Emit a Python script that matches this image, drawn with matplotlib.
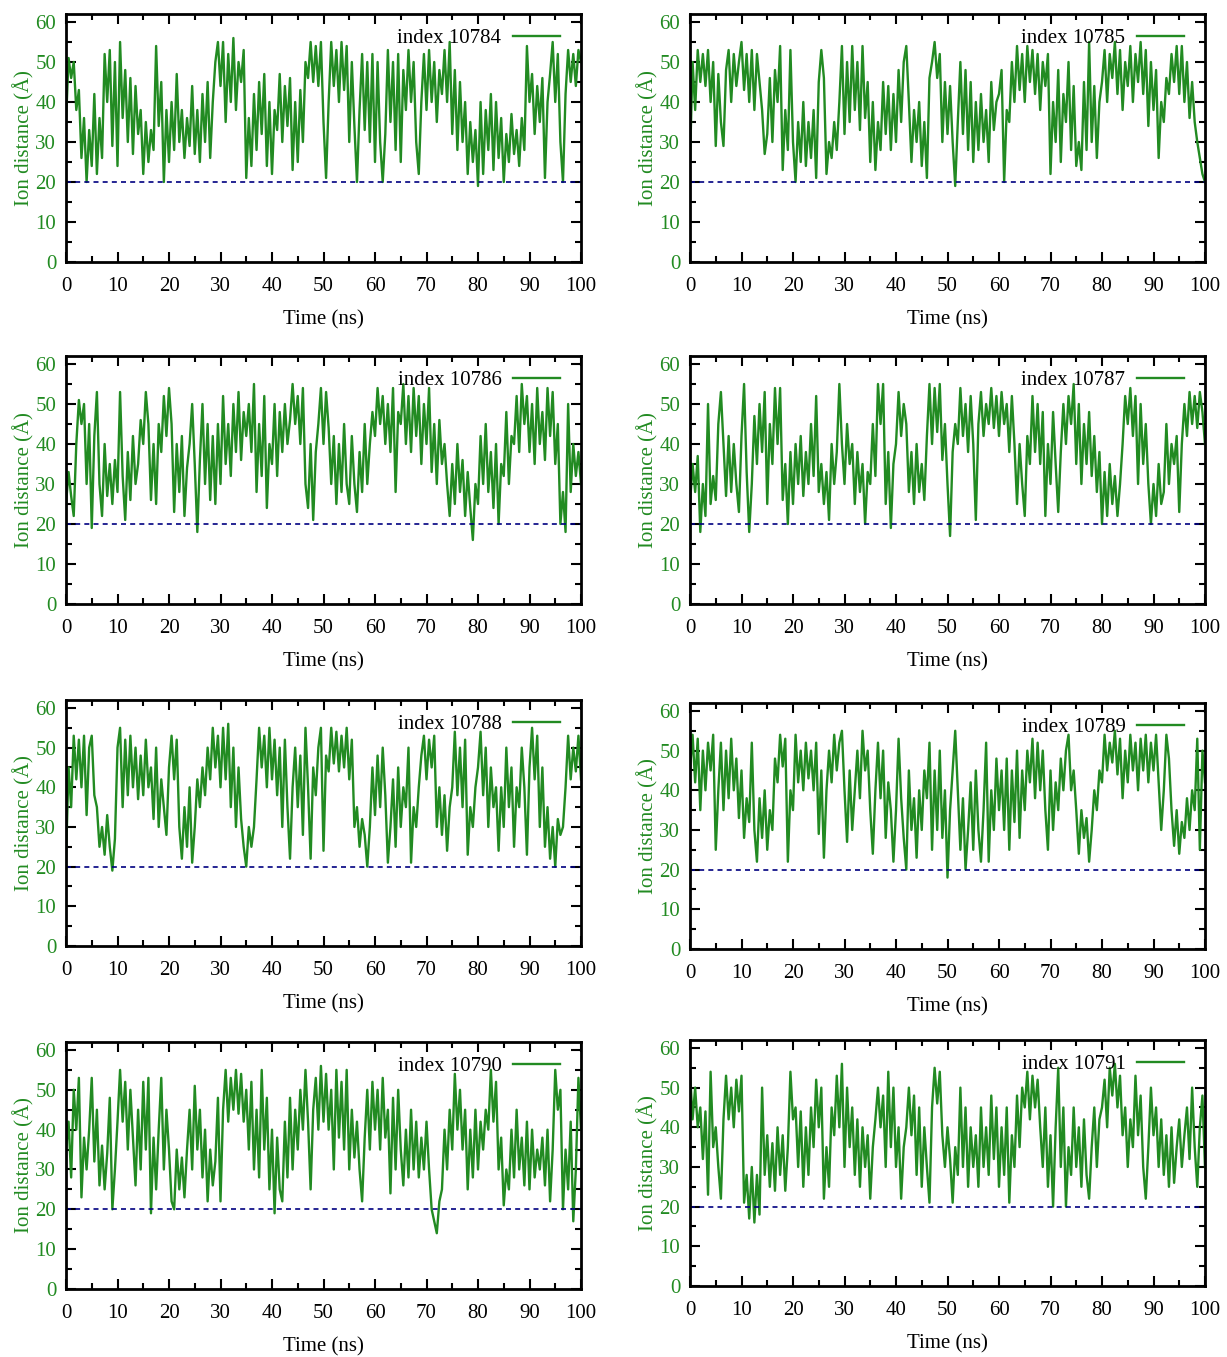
import numpy as np
import matplotlib
matplotlib.use("Agg")
import matplotlib.pyplot as plt
from matplotlib.ticker import MultipleLocator

plt.rcParams['font.family'] = ['Liberation Serif', 'DejaVu Serif']

# time axis: one reading every 0.5 ns, 0..100 ns
time_ns = np.linspace(0, 100, 201)
threshold = 20

ion_labels = ["index 10784", "index 10785", "index 10786", "index 10787",
              "index 10788", "index 10789", "index 10790", "index 10791"]

# distances (Å), 20 values per 10 ns row
d10784 = [35, 51, 46, 50, 38, 43, 26, 36, 20, 33, 24, 42, 22, 36, 26, 52, 40, 53, 29, 50,
          24, 55, 36, 48, 30, 46, 27, 44, 32, 38, 22, 35, 25, 33, 28, 54, 34, 45, 20, 38,
          25, 40, 28, 47, 30, 38, 26, 36, 29, 44, 27, 38, 25, 42, 30, 45, 26, 40, 50, 55,
          44, 55, 35, 52, 40, 56, 38, 50, 45, 53, 21, 36, 24, 42, 28, 45, 32, 47, 24, 40,
          22, 38, 33, 47, 30, 44, 34, 46, 23, 40, 25, 43, 30, 50, 46, 55, 45, 54, 44, 55,
          35, 21, 40, 55, 44, 53, 40, 55, 43, 54, 30, 50, 34, 20, 38, 52, 33, 50, 30, 52,
          25, 50, 30, 20, 32, 53, 35, 50, 28, 52, 25, 48, 38, 53, 40, 50, 30, 22, 40, 52,
          38, 53, 40, 50, 35, 48, 42, 53, 40, 55, 32, 48, 28, 45, 30, 40, 22, 35, 25, 33,
          19, 40, 22, 38, 28, 42, 23, 40, 26, 36, 20, 32, 25, 37, 27, 33, 24, 36, 28, 54,
          40, 47, 32, 44, 35, 46, 21, 40, 47, 55, 40, 52, 30, 20, 42, 53, 45, 52, 44, 53,
          50]
d10785 = [25, 50, 38, 53, 45, 52, 44, 53, 40, 50, 29, 47, 35, 29, 48, 53, 40, 52, 44, 50,
          55, 43, 52, 40, 53, 38, 52, 45, 38, 27, 32, 46, 30, 48, 40, 54, 23, 38, 28, 53,
          30, 20, 35, 25, 40, 24, 35, 26, 38, 21, 45, 53, 46, 22, 30, 26, 35, 28, 40, 54,
          32, 50, 35, 54, 38, 50, 33, 54, 36, 45, 25, 40, 23, 35, 28, 45, 32, 44, 28, 42,
          30, 48, 35, 50, 54, 40, 25, 38, 30, 40, 24, 35, 21, 46, 50, 55, 46, 52, 30, 45,
          32, 44, 30, 19, 35, 50, 32, 48, 28, 45, 25, 40, 28, 42, 30, 38, 25, 45, 33, 40,
          42, 48, 20, 38, 35, 50, 40, 54, 43, 52, 40, 54, 45, 53, 42, 52, 38, 50, 44, 52,
          22, 40, 30, 48, 25, 42, 35, 50, 28, 44, 24, 30, 23, 45, 28, 55, 30, 44, 26, 40,
          45, 53, 40, 52, 46, 55, 42, 53, 38, 50, 44, 54, 40, 52, 45, 55, 42, 53, 34, 50,
          38, 48, 26, 40, 35, 46, 42, 52, 45, 54, 42, 54, 40, 50, 36, 45, 35, 30, 26, 22,
          20]
d10786 = [25, 33, 27, 22, 40, 51, 45, 50, 30, 45, 19, 42, 53, 30, 22, 40, 27, 35, 25, 36,
          28, 53, 32, 21, 38, 26, 42, 30, 35, 46, 40, 53, 45, 26, 40, 25, 45, 38, 52, 42,
          54, 45, 23, 40, 28, 42, 22, 34, 40, 50, 35, 18, 36, 50, 30, 45, 26, 42, 25, 45,
          30, 52, 35, 45, 32, 50, 38, 53, 36, 48, 42, 50, 38, 55, 28, 45, 32, 52, 24, 40,
          35, 50, 32, 48, 38, 50, 40, 46, 55, 45, 52, 40, 54, 30, 24, 40, 21, 38, 45, 54,
          40, 53, 44, 30, 42, 25, 40, 28, 45, 30, 25, 42, 30, 23, 38, 28, 45, 30, 40, 48,
          42, 54, 45, 52, 40, 50, 38, 54, 28, 48, 45, 55, 40, 52, 38, 54, 42, 52, 35, 50,
          40, 54, 33, 45, 30, 46, 35, 40, 30, 22, 35, 25, 40, 28, 36, 22, 33, 24, 16, 30,
          25, 42, 30, 45, 28, 38, 24, 40, 20, 35, 32, 48, 30, 42, 40, 52, 38, 55, 45, 52,
          38, 50, 35, 54, 40, 48, 36, 54, 42, 53, 35, 45, 20, 28, 18, 50, 28, 40, 32, 38,
          30]
d10787 = [25, 35, 28, 37, 18, 30, 22, 50, 25, 32, 26, 45, 53, 40, 27, 42, 28, 40, 30, 23,
          42, 55, 33, 18, 30, 47, 35, 50, 38, 53, 25, 45, 35, 54, 40, 54, 26, 35, 20, 38,
          25, 40, 30, 42, 27, 38, 30, 45, 32, 52, 28, 35, 25, 33, 21, 40, 30, 38, 55, 40,
          30, 45, 35, 40, 25, 38, 28, 35, 20, 33, 30, 45, 32, 55, 45, 55, 25, 38, 19, 35,
          40, 53, 42, 50, 45, 28, 38, 25, 40, 28, 35, 26, 42, 55, 40, 54, 43, 55, 36, 45,
          30, 17, 38, 45, 40, 54, 42, 50, 38, 52, 40, 21, 45, 53, 42, 50, 45, 54, 44, 52,
          42, 53, 45, 50, 38, 52, 40, 25, 40, 30, 22, 42, 35, 52, 38, 50, 35, 48, 22, 40,
          30, 48, 35, 23, 38, 50, 40, 52, 45, 55, 35, 50, 30, 45, 35, 48, 32, 42, 28, 38,
          20, 33, 22, 35, 25, 32, 22, 30, 40, 52, 45, 54, 42, 52, 30, 50, 35, 45, 30, 20,
          30, 22, 35, 25, 28, 45, 30, 40, 35, 42, 23, 40, 50, 42, 53, 45, 52, 44, 53, 48,
          40]
d10788 = [22, 45, 35, 53, 42, 52, 40, 53, 33, 50, 53, 38, 35, 25, 30, 23, 33, 25, 19, 27,
          50, 55, 35, 52, 38, 53, 40, 50, 37, 48, 38, 52, 40, 45, 32, 50, 30, 42, 35, 28,
          45, 53, 42, 52, 30, 22, 35, 25, 40, 21, 30, 42, 35, 45, 38, 50, 42, 55, 45, 53,
          40, 55, 42, 56, 35, 50, 30, 45, 32, 25, 20, 30, 25, 30, 42, 55, 45, 53, 40, 55,
          42, 52, 38, 50, 30, 52, 35, 22, 40, 50, 35, 48, 28, 55, 40, 22, 45, 38, 50, 55,
          24, 48, 44, 55, 46, 54, 44, 53, 45, 55, 42, 52, 30, 35, 25, 32, 28, 20, 30, 45,
          33, 48, 35, 50, 38, 21, 30, 42, 25, 45, 30, 40, 35, 50, 21, 35, 30, 40, 48, 53,
          42, 52, 45, 53, 30, 40, 28, 38, 24, 35, 40, 54, 38, 50, 35, 52, 23, 35, 30, 40,
          45, 54, 38, 50, 30, 45, 35, 40, 24, 40, 30, 50, 35, 45, 25, 40, 35, 50, 40, 23,
          45, 55, 42, 53, 30, 45, 25, 35, 22, 30, 20, 32, 28, 30, 40, 53, 42, 50, 44, 53,
          42]
d10789 = [45, 54, 42, 53, 35, 50, 40, 52, 45, 54, 25, 40, 52, 35, 50, 38, 53, 40, 48, 33,
          45, 28, 38, 32, 52, 30, 22, 38, 28, 40, 25, 35, 30, 48, 42, 54, 46, 53, 22, 40,
          35, 54, 42, 50, 40, 52, 43, 50, 40, 52, 29, 45, 23, 40, 50, 42, 54, 45, 52, 55,
          40, 27, 45, 30, 40, 50, 38, 55, 45, 50, 35, 24, 40, 52, 38, 50, 28, 42, 35, 22,
          35, 53, 38, 28, 20, 45, 30, 38, 23, 40, 30, 45, 38, 52, 25, 45, 30, 50, 28, 40,
          18, 35, 45, 55, 40, 25, 38, 20, 30, 42, 25, 45, 30, 22, 35, 52, 22, 40, 30, 48,
          35, 45, 30, 48, 25, 45, 32, 50, 28, 45, 35, 50, 42, 53, 38, 52, 40, 50, 35, 25,
          45, 30, 42, 35, 48, 40, 50, 54, 40, 45, 35, 24, 35, 28, 33, 22, 30, 40, 35, 45,
          42, 54, 45, 52, 47, 55, 44, 53, 38, 50, 42, 54, 45, 52, 40, 53, 45, 54, 42, 52,
          45, 54, 42, 30, 40, 54, 48, 35, 26, 35, 24, 32, 28, 38, 30, 40, 35, 53, 25, 50,
          42]
d10790 = [35, 42, 28, 50, 40, 53, 23, 38, 30, 40, 53, 32, 45, 26, 36, 25, 34, 48, 20, 30,
          42, 55, 42, 52, 35, 50, 38, 26, 45, 30, 52, 35, 53, 19, 38, 25, 40, 53, 30, 45,
          35, 22, 20, 35, 25, 33, 23, 35, 45, 30, 51, 35, 45, 28, 40, 22, 35, 26, 32, 48,
          22, 45, 55, 42, 53, 45, 55, 44, 54, 42, 50, 35, 52, 30, 45, 28, 55, 35, 48, 25,
          40, 19, 38, 25, 22, 42, 28, 48, 30, 45, 35, 50, 40, 55, 42, 25, 45, 53, 40, 56,
          42, 54, 40, 50, 30, 55, 38, 52, 35, 55, 30, 45, 33, 42, 30, 22, 38, 50, 35, 52,
          40, 50, 35, 53, 38, 45, 24, 48, 30, 50, 35, 26, 40, 28, 45, 30, 42, 28, 38, 30,
          42, 30, 20, 17, 14, 22, 25, 40, 30, 45, 35, 54, 40, 50, 35, 45, 25, 40, 28, 45,
          30, 42, 35, 45, 40, 55, 42, 52, 30, 38, 21, 30, 25, 40, 28, 45, 30, 38, 26, 42,
          25, 40, 28, 35, 30, 38, 26, 40, 22, 35, 55, 45, 50, 20, 35, 25, 42, 17, 30, 53,
          40]
d10791 = [54, 42, 50, 40, 45, 32, 44, 23, 54, 35, 40, 30, 22, 42, 53, 42, 50, 40, 52, 44,
          53, 21, 28, 17, 30, 16, 28, 18, 50, 28, 38, 25, 36, 24, 40, 28, 38, 24, 35, 54,
          42, 45, 30, 44, 25, 40, 28, 45, 35, 52, 40, 50, 22, 35, 25, 45, 38, 53, 40, 56,
          30, 50, 35, 45, 28, 42, 25, 40, 30, 38, 22, 35, 42, 50, 40, 48, 30, 54, 35, 50,
          30, 40, 22, 35, 40, 50, 38, 48, 28, 45, 25, 40, 30, 21, 45, 55, 46, 54, 38, 30,
          40, 32, 21, 35, 28, 50, 30, 45, 25, 40, 30, 38, 25, 45, 30, 40, 28, 48, 32, 45,
          25, 40, 28, 45, 21, 38, 30, 48, 35, 50, 45, 54, 42, 53, 45, 52, 40, 30, 45, 25,
          38, 20, 40, 55, 30, 45, 20, 35, 28, 45, 30, 40, 25, 42, 28, 22, 35, 45, 30, 42,
          45, 52, 40, 55, 48, 56, 45, 53, 38, 45, 30, 42, 35, 53, 38, 48, 30, 22, 35, 50,
          38, 45, 30, 42, 28, 38, 25, 40, 26, 35, 42, 30, 38, 45, 32, 50, 35, 25, 40, 48,
          30]

series = [d10784, d10785, d10786, d10787, d10788, d10789, d10790, d10791]

GREEN = '#228B22'
NAVY = '#000080'
W, H = 1227, 1357

# panel frames in pixels: (left, top, right, bottom)
frames = [(66, 14, 581, 262), (690, 14, 1205, 262),
          (66, 356, 581, 604), (690, 356, 1205, 604),
          (66, 700, 581, 946), (690, 703, 1205, 949),
          (66, 1042, 581, 1289), (690, 1040, 1205, 1286)]

fig = plt.figure(figsize=(W / 100, H / 100), dpi=100)

for (l, t, r, b), lab, ys in zip(frames, ion_labels, series):
    ax = fig.add_axes([l / W, 1 - b / H, (r - l) / W, (b - t) / H])
    ax.plot(time_ns, ys, color=GREEN, lw=1.7, label=lab)
    ax.axhline(threshold, color=NAVY, lw=1.2, ls=(0, (3, 2.5)))
    ax.set_xlim(0, 100)
    ax.set_ylim(0, 62)
    ax.xaxis.set_major_locator(MultipleLocator(10))
    ax.xaxis.set_minor_locator(MultipleLocator(5))
    ax.yaxis.set_major_locator(MultipleLocator(10))
    ax.yaxis.set_minor_locator(MultipleLocator(5))
    ax.tick_params(which='both', direction='in', top=True, right=True, width=1.5)
    ax.tick_params(which='major', length=7)
    ax.tick_params(which='minor', length=4)
    ax.tick_params(axis='x', labelsize=15, pad=11)
    ax.tick_params(axis='y', labelsize=15, pad=7, labelcolor=GREEN)
    for sp in ax.spines.values():
        sp.set_linewidth(2)
    ax.set_xlabel('Time (ns)', fontsize=15, labelpad=10)
    ax.set_ylabel('Ion distance (Å)', fontsize=15, color=GREEN, labelpad=1)
    ax.legend(loc='upper right', frameon=False, fontsize=15, markerfirst=False,
              handlelength=2.25, handletextpad=0.55, borderaxespad=0,
              bbox_to_anchor=(0.975, 0.976))

fig.savefig('out.png', dpi=100)
